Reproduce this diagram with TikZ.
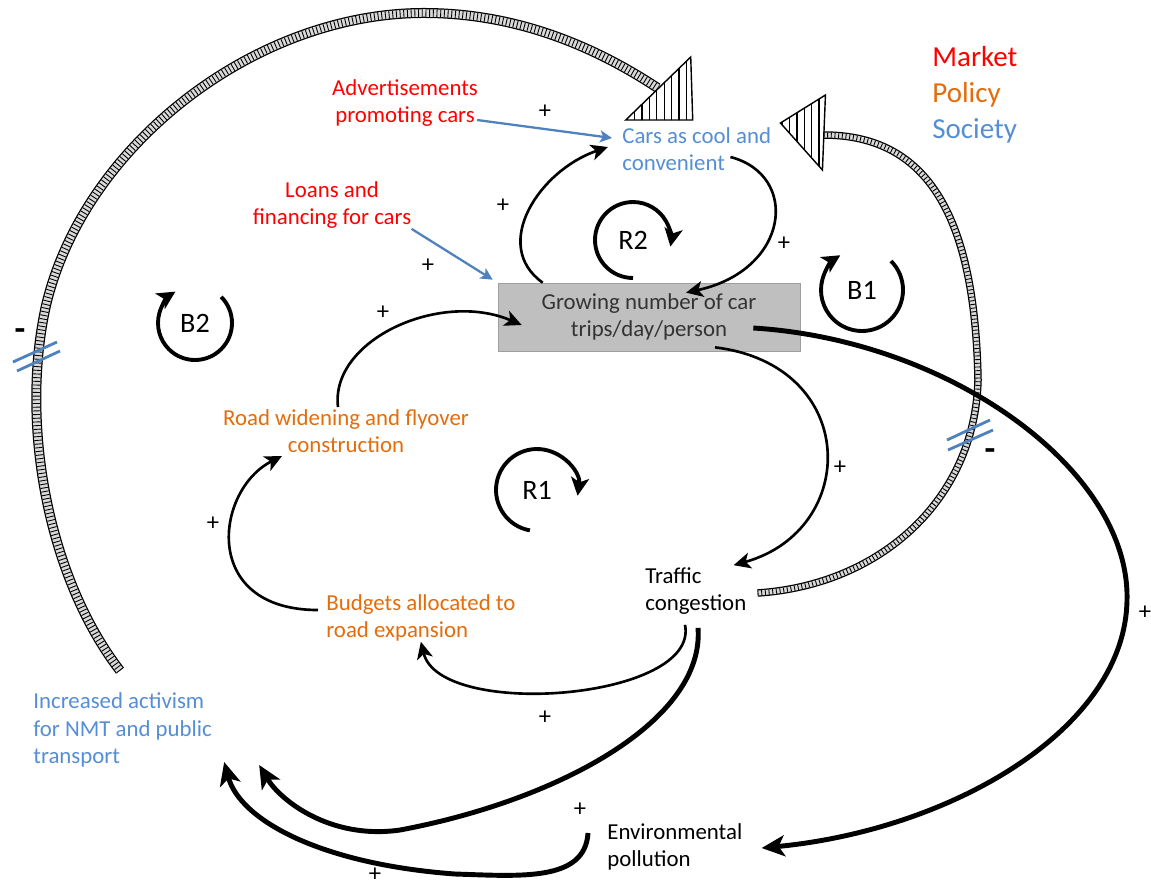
\documentclass[tikz,border=0pt]{standalone}
\usepackage{fontspec}
\setmainfont{Carlito}
\usetikzlibrary{positioning,arrows.meta,calc,patterns.meta}

\definecolor{mktred}{RGB}{255,0,0}
\definecolor{polorange}{RGB}{228,108,10}
\definecolor{soctext}{RGB}{85,142,213}
\definecolor{socline}{RGB}{79,129,189}
\definecolor{boxgray}{RGB}{191,191,191}

\begin{document}
\begin{tikzpicture}[
  x=0.02cm, y=-0.02cm,
  font=\fontsize{13}{15.5}\selectfont,
  var/.style={inner sep=0pt, align=left},
  mkt/.style={var, text=mktred, align=center},
  pol/.style={var, text=polorange},
  soc/.style={var, text=soctext},
  hub/.style={draw=gray!75, fill=boxgray, minimum width=6.04cm, minimum height=1.36cm,
              align=center, inner sep=0pt, text=black!80},
  legend/.style={inner sep=0pt, anchor=base west, font=\fontsize{16.5}{19}\selectfont},
  loopname/.style={inner sep=0pt, font=\fontsize{16}{19}\selectfont},
  sign/.style={inner sep=0pt, font=\fontsize{14}{16}\selectfont},
  link/.style={-{Stealth[length=3.4mm,width=3.2mm,inset=0.9mm]}, line width=1.5pt},
  heavy/.style={-{Stealth[length=4.6mm,width=4.2mm,inset=1.2mm]}, line width=2.8pt},
  push/.style={-{Stealth[length=2.4mm,width=2.4mm,inset=0.6mm]}, draw=socline, line width=1.3pt},
  loopmark/.style={-{Stealth[length=3.6mm,width=3.6mm,inset=0.9mm]}, line width=2.2pt},
  hatch/.style={line width=0.2cm, postaction={draw=gray!30, line width=0.15cm},
                postaction={draw=black, line width=0.15cm, dash pattern=on 0.5pt off 1.6pt}},
  hatchthin/.style={line width=0.15cm, postaction={draw=gray!30, line width=0.1cm},
                postaction={draw=black, line width=0.1cm, dash pattern=on 0.5pt off 1.6pt}},
  headfill/.style={draw, line width=0.8pt, line join=miter,
                   pattern={Lines[angle=90,distance=4.2pt,line width=0.7pt]}},
  cut/.style={draw=socline, line width=1.6pt}
]
\useasboundingbox (0,0) rectangle (1151,890);

% legend
\node[legend, text=mktred] (mkt) at (932,66) {Market};
\node[legend, text=polorange] (pol) at (932,102) {Policy};
\node[legend, text=soctext] (soc) at (932,138) {Society};

% variables
\node[mkt] (ads) at (405,103) {Advertisements\\promoting cars};
\node[mkt] (loans) at (332,205) {Loans and\\financing for cars};
\node[soc, anchor=west] (cars) at (622,149) {Cars as cool and\\convenient};
\node[hub] (grow) at (649,317) {Growing number of car\\trips/day/person};
\node[pol, align=center] (road) at (346,431) {Road widening and flyover\\construction};
\node[pol, anchor=west] (budg) at (326,618) {Budgets allocated to\\road expansion};
\node[var, anchor=west] (traf) at (645,591) {Traffic\\congestion};
\node[soc, anchor=west] (nmt) at (33,730) {Increased activism\\for NMT and public\\transport};
\node[var, anchor=west] (env) at (607,847) {Environmental\\pollution};

% loop names
\node[loopname] (r2) at (633,240) {R2};
\node[loopname] (b1) at (862,290) {B1};
\node[loopname] (b2) at (195,323) {B2};
\node[loopname] (r1) at (537,490) {R1};

% delayed links (B2, B1)
\draw[hatch] ($(nmt.north west)+(87,-22)$) .. controls (50,580) and (20,430) .. (45,310)
  .. controls (80,150) and (250,15) .. (420,13) .. controls (520,12) and (600,50) .. ($(cars.north)+(-39,-39)$);
\draw[headfill] ($(cars.north)+(-6,-70)$) -- ($(cars.north)+(-4,-7)$) -- ($(cars.north)+(-71,-7)$) -- cycle;
\draw[hatchthin] ($(traf.east)+(11,2)$) .. controls (880,585) and (975,500) .. (978,380)
  .. controls (975,220) and (930,135) .. ($(cars.east)+(52,-14)$);
\draw[headfill] ($(cars.east)+(54,-54)$) -- ($(cars.east)+(51,21)$) -- ($(cars.east)+(9,-26)$) -- cycle;
\draw[cut] (13,362) -- (57,342);
\draw[cut] (17,371) -- (60,351);
\draw[cut] (947,440) -- (990,420);
\draw[cut] (948,450) -- (993,430);
\node[sign, font=\fontsize{20}{20}\bfseries] (minus1) at (20,335) {-};
\node[sign, font=\fontsize{20}{20}\bfseries] (minus2) at (990,455) {-};

% market inputs
\draw[push] ($(ads.east)+(-1,17)$) -- ($(cars.west)+(-10,-11)$);
\draw[push] (loans.south east) -- ($(grow.north west)+(-5,-3)$);

% R2
\draw[link] ($(grow.north west)+(45,0)$) .. controls (490,245) and (540,170) .. ($(cars.west)+(-14,-2)$);
\draw[link] ($(cars.east)+(-41,8)$) .. controls (800,175) and (790,270) .. ($(grow.north)+(37,10)$);

% R1
\draw[link] ($(grow.south)+(66,-4)$) .. controls (860,365) and (860,530) .. ($(traf.north east)+(-13,-2)$);
\draw[link] ($(traf.south west)+(40,10)$) .. controls (700,700) and (440,720) .. (budg.south);
\draw[link] ($(budg.west)+(-8,-8)$) .. controls (200,610) and (215,490) .. ($(road.south)+(-64,3)$);
\draw[link] ($(road.north)+(-8,-2)$) .. controls (330,340) and (440,290) .. ($(grow.west)+(24,8)$);

% pollution and activism
\draw[heavy] ($(grow.east)+(-47,11)$) .. controls (950,340) and (1130,470) .. (1127,600)
  .. controls (1125,730) and (950,830) .. ($(env.east)+(19,1)$);
\draw[heavy] ($(traf.south west)+(53,13)$) .. controls (705,720) and (560,800) .. (400,830)
  .. controls (330,840) and (280,800) .. ($(nmt.east)+(47,35)$);
\draw[heavy] ($(env.west)+(-19,-14)$) .. controls (585,882) and (520,876) .. (455,874)
  .. controls (320,864) and (240,820) .. ($(nmt.east)+(12,32)$);

% loop markers
\draw[loopmark] ($(r2)+(270:0.76cm)$) arc[start angle=270, end angle=-10, radius=0.76cm];
\draw[loopmark] ($(b1)+(45:0.82cm)$) arc[start angle=45, end angle=-238, radius=0.82cm];
\draw[loopmark] ($(b2)+(45:0.74cm)$) arc[start angle=45, end angle=-238, radius=0.74cm];
\draw[loopmark] ($(r1)+(260:0.82cm)$) arc[start angle=260, end angle=-8, radius=0.82cm];

% polarities
\foreach \p [count=\i] in {(545,112),(428,266),(503,206),(784,244),(383,313),(213,524),
    (840,468),(545,718),(1145,613),(580,810),(375,875)}
  \node[sign] (plus\i) at \p {+};
\end{tikzpicture}
\end{document}
